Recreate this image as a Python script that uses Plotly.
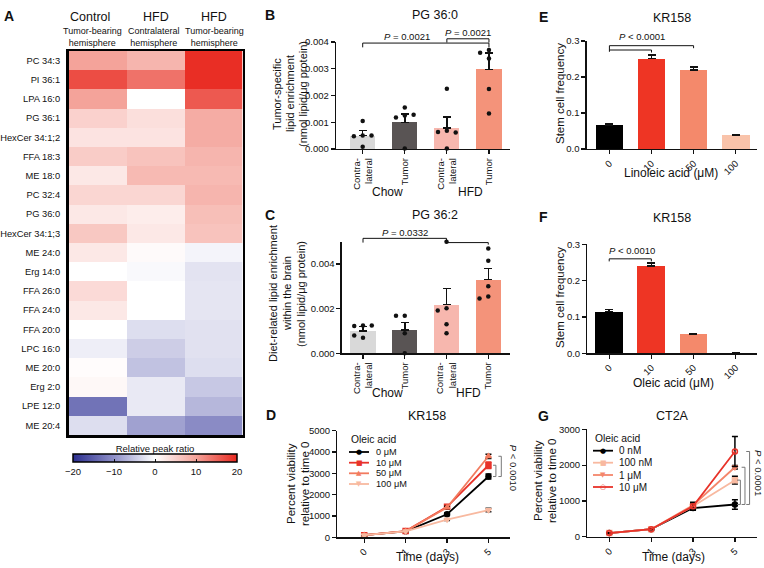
import plotly.graph_objects as go

W, H = 764, 568
FONT = "Liberation Sans, Arial, Helvetica, sans-serif"
INK = "#111111"


def px(x):
    return x / W


def py(y):
    return 1 - y / H


def frac(v, rng):
    return (v - rng[0]) / (rng[1] - rng[0])


# ---------------- Panel A: heatmap data ----------------
lipids = ["PC 34:3", "PI 36:1", "LPA 16:0", "PG 36:1", "HexCer 34:1;2", "FFA 18:3",
          "ME 18:0", "PC 32:4", "PG 36:0", "HexCer 34:1;3", "ME 24:0", "Erg 14:0",
          "FFA 26:0", "FFA 24:0", "FFA 20:0", "LPC 16:0", "ME 20:0", "Erg 2:0",
          "LPE 12:0", "ME 20:4"]
hm_groups = ["Control tumor-bearing", "HFD contralateral", "HFD tumor-bearing"]
ratio_control_tumor = [10, 17, 10, 5, 3, 5.5, 2.5, 4.5, 2.5, 6, 2.5, 0, 4, 2.5, 0,
                       -1.5, 0.3, 0.8, -13, -3]
ratio_hfd_contra = [8, 14, 0, 3.5, 3, 6.5, 7.5, 4.5, 2, 2.5, 0.5, -0.5, 0, 0, -3,
                    -4.5, -5.5, -2, -2, -8.5]
ratio_hfd_tumor = [19.5, 19.5, 16, 9, 9, 8, 7.5, 8, 7, 6.5, -1, -2.5, -2.3, -2.3,
                   -2.7, -2.7, -3, -5, -6.5, -10.5]
cbar_ticks = [-20, -10, 0, 10, 20]

# ---------------- Panel B: PG 36:0 ----------------
bar_groups = ["Contra-<br>lateral", "Tumor", "Contra-<br>lateral", "Tumor"]
B_mean = [0.00050, 0.00100, 0.00078, 0.00298]
B_sem = [0.00019, 0.00030, 0.00042, 0.00060]
B_points = [[0.00105, 0.00050, 0.00048, 0.00050, 0.00008],
            [0.00155, 0.00125, 0.00118, 0.00128, 0.00002],
            [0.00225, 0.00068, 0.00064, 0.00062, 0.00002],
            [0.00370, 0.00360, 0.00338, 0.00224, 0.00133]]

# ---------------- Panel C: PG 36:2 ----------------
C_mean = [0.00100, 0.00105, 0.00218, 0.00330]
C_sem = [0.00020, 0.00033, 0.00072, 0.00050]
C_points = [[0.00125, 0.00122, 0.00125, 0.00070, 0.00080],
            [0.00168, 0.00168, 0.00090, 0.00000],
            [0.00500, 0.00202, 0.00192, 0.00130, 0.00090],
            [0.00470, 0.00415, 0.00300, 0.00255, 0.00245]]

# ---------------- Panel D: KR158 viability, oleic acid ----------------
days = ["0", "1", "3", "5"]
D_names = ["0 μM", "10 μM", "50 μM", "100 μM"]
D_vals = [[100, 280, 1080, 2850],
          [100, 290, 1430, 3380],
          [100, 290, 1400, 3800],
          [100, 280, 830, 1280]]
D_err = [[15, 15, 60, 120],
         [15, 15, 60, 150],
         [15, 15, 60, 100],
         [15, 15, 40, 80]]

# ---------------- Panel E: KR158 stem cell frequency, linoleic acid ----------------
conc_labels = ["0", "10", "50", "100"]
E_mean = [0.066, 0.251, 0.220, 0.038]
E_sem = [0.004, 0.010, 0.008, 0.002]

# ---------------- Panel F: KR158 stem cell frequency, oleic acid ----------------
F_mean = [0.115, 0.240, 0.053, 0.001]
F_sem = [0.005, 0.009, 0.002, 0.0005]

# ---------------- Panel G: CT2A viability, oleic acid ----------------
G_names = ["0 nM", "100 nM", "1 μM", "10 μM"]
G_vals = [[100, 210, 800, 900],
          [100, 210, 850, 1580],
          [100, 210, 880, 1940],
          [100, 210, 850, 2380]]
G_err = [[10, 15, 60, 130],
         [10, 15, 80, 110],
         [10, 15, 80, 50],
         [10, 15, 100, 420]]

# ---------------- styles ----------------
HM_SCALE = [[0, "#2b2e8f"], [0.25, "#8f90c8"], [0.5, "#ffffff"],
            [0.75, "#f4a39a"], [1, "#e8281f"]]
BC_COLORS = ["#d9d9d9", "#595454", "#f7b7ae", "#f4937a"]
EF_COLORS = ["#000000", "#ee3524", "#f4896b", "#f9c3aa"]
D_COLORS = ["#000000", "#e8332a", "#f27b5f", "#f8b9a0"]
D_ERRC = ["#000000", "#e8332a", "#000000", "#222222"]
D_SYM = ["circle", "square", "triangle-up", "triangle-down"]
D_GLYPH = ["●", "■", "▲", "▼"]
G_COLORS = ["#000000", "#f8b9a0", "#f4866b", "#e8332a"]
G_SYM = ["circle", "square", "triangle-down", "circle-open"]
G_GLYPH = ["●", "■", "▼", "○"]

# axis ranges
B_XR, B_YR = [-0.634, 3.5], [0, 0.004]
C_XR, C_YR = [-0.51, 3.52], [0, 0.005]
D_XR, D_YR = [-0.65, 3.52], [0, 5000]
E_XR, E_YR = [-0.54, 3.5], [0, 0.3]
F_XR, F_YR = [-0.52, 3.5], [0, 0.3]
G_XR, G_YR = [-0.525, 3.52], [0, 3000]

fig = go.Figure()

# ---- A heatmap
z = [list(r) for r in zip(ratio_control_tumor, ratio_hfd_contra, ratio_hfd_tumor)]
fig.add_trace(go.Heatmap(
    z=z, x=hm_groups, y=lipids, zmin=-20, zmax=20, colorscale=HM_SCALE,
    xaxis="x", yaxis="y", hoverinfo="skip",
    colorbar=dict(orientation="h", x=px(155), xanchor="center", y=py(443), yanchor="top",
                  len=164 / W, lenmode="fraction", thickness=8,
                  outlinewidth=1.5, outlinecolor="black",
                  tickvals=cbar_ticks, ticks="inside", ticklen=3, tickwidth=1,
                  tickcolor=INK, tickfont=dict(size=9.5, family=FONT, color=INK),
                  title=dict(text="Relative peak ratio", side="top",
                             font=dict(size=9.5, family=FONT, color=INK)),
                  xpad=0, ypad=0)))


def swarm(vals, thr, step=0.21):
    pattern = [0, -1, 1, -2, 2]
    offs = []
    for i, v in enumerate(vals):
        n = sum(1 for j in range(i) if abs(vals[j] - v) < thr)
        offs.append(pattern[min(n, 4)] * step)
    return offs


def bar_panel(xa, ya, means, sems, points, colors, thr, width):
    idx = list(range(len(means)))
    fig.add_trace(go.Bar(
        x=idx, y=means, marker=dict(color=colors, line=dict(width=0)), width=width,
        error_y=dict(type="data", array=sems, arrayminus=[0] * len(sems), symmetric=False,
                     color=INK, thickness=1.5, width=4),
        xaxis=xa, yaxis=ya, hoverinfo="skip"))
    if points is not None:
        for i, pts in enumerate(points):
            offs = swarm(pts, thr)
            fig.add_trace(go.Scatter(
                x=[i + o for o in offs], y=pts, mode="markers",
                marker=dict(color=INK, size=4.5), cliponaxis=False,
                xaxis=xa, yaxis=ya, hoverinfo="skip"))


bar_panel("x2", "y2", B_mean, B_sem, B_points, BC_COLORS, 0.00015, 0.6)
bar_panel("x3", "y3", C_mean, C_sem, C_points, BC_COLORS, 0.00015, 0.6)
bar_panel("x5", "y5", E_mean, E_sem, None, EF_COLORS, 0, 0.66)
bar_panel("x6", "y6", F_mean, F_sem, None, EF_COLORS, 0, 0.66)


def line_panel(xa, ya, vals, errs, colors, errc, syms):
    for v, e, c, ec, s in zip(vals, errs, colors, errc, syms):
        fig.add_trace(go.Scatter(
            x=days, y=v, mode="lines+markers",
            line=dict(color=c, width=1.8),
            marker=dict(symbol=s, size=5, color=c, line=dict(color=c, width=1.5)),
            error_y=dict(type="data", array=e, color=ec, thickness=1.5, width=3),
            xaxis=xa, yaxis=ya, hoverinfo="skip", cliponaxis=False))


line_panel("x4", "y4", D_vals, D_err, D_COLORS, D_ERRC, D_SYM)
line_panel("x7", "y7", G_vals, G_err, G_COLORS, ["#000000"] * 4, G_SYM)

# ---------------- axes ----------------
TF = dict(size=9.5, family=FONT, color=INK)


def ax(domain, rng, anchor, **kw):
    d = dict(domain=domain, range=rng, anchor=anchor, showline=True, linecolor=INK,
             linewidth=1.3, ticks="outside", ticklen=4, tickwidth=1.2, tickcolor=INK,
             showgrid=False, zeroline=False, tickfont=TF, fixedrange=True,
             automargin=False)
    d.update(kw)
    return d


layout_axes = dict(
    xaxis=dict(domain=[px(68.5), px(242.5)], anchor="y", showticklabels=False, ticks="",
               showline=True, mirror=True, linewidth=2.5, linecolor="black",
               showgrid=False, zeroline=False, automargin=False),
    yaxis=dict(domain=[py(435), py(51)], anchor="x", autorange="reversed", ticks="",
               showline=True, mirror=True, linewidth=2.5, linecolor="black",
               showgrid=False, zeroline=False, ticklabelstandoff=4, automargin=False,
               tickfont=dict(size=9.3, family=FONT, color=INK)),
    xaxis2=ax([px(336), px(510)], B_XR, "y2", tickvals=[0, 1, 2, 3],
              ticktext=bar_groups, tickangle=-90),
    yaxis2=ax([py(149), py(42)], B_YR, "x2",
              tickvals=[0, 0.001, 0.002, 0.003, 0.004], tickformat=".3f"),
    xaxis3=ax([px(341.7), px(510)], C_XR, "y3", tickvals=[0, 1, 2, 3],
              ticktext=bar_groups, tickangle=-90),
    yaxis3=ax([py(353.3), py(241.7)], C_YR, "x3",
              tickvals=[0, 0.002, 0.004], tickformat=".3f"),
    xaxis4=ax([px(337.3), px(510)], D_XR, "y4", type="category",
              categoryorder="array", categoryarray=days, tickangle=-45),
    yaxis4=ax([py(537.3), py(430.7)], D_YR, "x4",
              tickvals=[0, 1000, 2000, 3000, 4000, 5000]),
    xaxis5=ax([px(586.7), px(756.7)], E_XR, "y5", tickvals=[0, 1, 2, 3],
              ticktext=conc_labels, tickangle=-45),
    yaxis5=ax([py(149), py(41)], E_YR, "x5", tickvals=[0, 0.1, 0.2, 0.3],
              tickformat=".1f"),
    xaxis6=ax([px(587.3), px(756.7)], F_XR, "y6", tickvals=[0, 1, 2, 3],
              ticktext=conc_labels, tickangle=-45),
    yaxis6=ax([py(353.3), py(244.3)], F_YR, "x6", tickvals=[0, 0.1, 0.2, 0.3],
              tickformat=".1f"),
    xaxis7=ax([px(587.3), px(756.7)], G_XR, "y7", type="category",
              categoryorder="array", categoryarray=days, tickangle=-45),
    yaxis7=ax([py(536.7), py(429.3)], G_YR, "x7", tickvals=[0, 1000, 2000, 3000]),
)

# ---------------- annotations & shapes ----------------
anns = []
shapes = []


def ann(text, x, y, size=9.5, xanchor="center", yanchor="middle", angle=0,
        bold=False, xref="paper", yref="paper"):
    if xref == "paper":
        x = px(x)
    if yref == "paper":
        y = py(y)
    anns.append(dict(text=f"<b>{text}</b>" if bold else text, x=x, y=y, xref=xref, yref=yref,
                     showarrow=False, xanchor=xanchor, yanchor=yanchor, textangle=angle,
                     font=dict(size=size, family=FONT, color=INK)))


def seg(xref, yref, x0, y0, x1, y1, color=INK, w=1.0):
    shapes.append(dict(type="line", xref=xref, yref=yref, x0=x0, y0=y0, x1=x1, y1=y1,
                       line=dict(color=color, width=w)))


# panel letters
for letter, (lx, ly) in {"A": (9, 16), "B": (270, 15), "C": (270, 215), "D": (271, 415),
                         "E": (543, 17), "F": (543, 217), "G": (543, 416)}.items():
    ann(letter, lx, ly, size=14, bold=True)

# heatmap headers
for t, x in [("Control", 90), ("HFD", 156), ("HFD", 214)]:
    ann(t, x, 17, size=12.5)
for t, x in [("Tumor-bearing<br>hemisphere", 92), ("Contralateral<br>hemisphere", 154),
             ("Tumor-bearing<br>hemisphere", 215)]:
    ann(t, x, 37, size=9)

# panel titles
for t, x, y in [("PG 36:0", 435, 15), ("PG 36:2", 435, 215), ("KR158", 427, 416),
                ("KR158", 672, 18), ("KR158", 672, 218), ("CT2A", 672, 416)]:
    ann(t, x, y, size=12.5)

# y-axis titles (one annotation per line)
for lines, xs, yc, fs in [
    (["Tumor-specific", "lipid enrichment", "(nmol lipid/μg protein)"], [277, 290, 303], 94, 11),
    (["Diet-related lipid enrichment", "within the brain", "(nmol lipid/μg protein)"],
     [273, 287, 301], 294, 11),
    (["Percent viability", "relative to time 0"], [291, 305], 484, 11.5),
    (["Stem cell frequency"], [560], 94, 11.5),
    (["Stem cell frequency"], [560], 298, 11.5),
    (["Percent viability", "relative to time 0"], [538, 552], 481, 11.5),
]:
    for t, x in zip(lines, xs):
        ann(t, x, yc, size=fs, angle=-90)

# x-axis titles / group labels
for t, x, y in [("Time (days)", 427, 557), ("Time (days)", 673, 557),
                ("Linoleic acid (μM)", 671, 173), ("Oleic acid (μM)", 673, 383),
                ("Chow", 387, 192), ("HFD", 470, 192), ("Chow", 387, 393), ("HFD", 468, 393)]:
    ann(t, x, y, size=12)

# B significance (y in 'y2 domain' units so they can sit above the axis)
yb = "y2 domain"
seg("x2", yb, 0, frac(0.0038, B_YR), 0, frac(0.00396, B_YR))
seg("x2", yb, 0, frac(0.00396, B_YR), 3, frac(0.00396, B_YR))
seg("x2", yb, 3, frac(0.00396, B_YR), 3, frac(0.0038, B_YR))
seg("x2", yb, 2, frac(0.00398, B_YR), 2, frac(0.00412, B_YR))
seg("x2", yb, 2, frac(0.00412, B_YR), 3, frac(0.00412, B_YR))
seg("x2", yb, 3, frac(0.00412, B_YR), 3, frac(0.00398, B_YR))
ann("<i>P</i> = 0.0021", 1.05, frac(0.00422, B_YR), xref="x2", yref=yb)
ann("<i>P</i> = 0.0021", 2.5, frac(0.00436, B_YR), xref="x2", yref=yb)

# C significance
yc_ = "y3 domain"
seg("x3", yc_, 0, frac(0.00496, C_YR), 0, frac(0.00515, C_YR))
seg("x3", yc_, 0, frac(0.00515, C_YR), 2, frac(0.00515, C_YR))
seg("x3", yc_, 2, frac(0.00515, C_YR), 2, frac(0.00496, C_YR))
seg("x3", yc_, 2, frac(0.00496, C_YR), 3, frac(0.00496, C_YR))
seg("x3", yc_, 3, frac(0.00496, C_YR), 3, frac(0.00487, C_YR))
ann("<i>P</i> = 0.0332", 1.0, frac(0.00542, C_YR), xref="x3", yref=yc_)

# E significance
seg("x5", "y5", 0, 0.270, 0, 0.287)
seg("x5", "y5", 0, 0.287, 2, 0.287)
seg("x5", "y5", 2, 0.287, 2, 0.280)
seg("x5", "y5", 0, 0.275, 1, 0.275)
seg("x5", "y5", 1, 0.275, 1, 0.268)
ann("<i>P</i> &lt; 0.0001", 0.77, frac(0.312, E_YR), xref="x5", yref="y5 domain")

# F significance
seg("x6", "y6", 0, 0.253, 0, 0.260)
seg("x6", "y6", 0, 0.260, 1, 0.260)
seg("x6", "y6", 1, 0.260, 1, 0.253)
ann("<i>P</i> &lt; 0.0010", 0.53, 0.284, xref="x6", yref="y6")


def vbracket(xa, ya, x, y0, y1, tick):
    seg(xa, ya, x - tick, y0, x, y0, color="#777777")
    seg(xa, ya, x, y0, x, y1, color="#777777")
    seg(xa, ya, x - tick, y1, x, y1, color="#777777")


# D significance
vbracket("x4", "y4", 3.31, D_vals[2][3], D_vals[0][3], 0.07)
vbracket("x4", "y4", 3.18, D_vals[1][3], D_vals[0][3], 0.07)
ann("<i>P</i> &lt; 0.0010", frac(3.62, D_XR), 3250, angle=90,
    xref="x4 domain", yref="y4")

# G significance
vbracket("x7", "y7", 3.35, G_vals[3][3], G_vals[0][3], 0.08)
vbracket("x7", "y7", 3.24, G_vals[2][3], G_vals[0][3], 0.08)
vbracket("x7", "y7", 3.13, G_vals[1][3], G_vals[0][3], 0.08)
ann("<i>P</i> &lt; 0.0001", frac(3.56, G_XR), 1770, angle=90,
    xref="x7 domain", yref="y7")


# manual legends (compact, like the original)
def legend(title, names, colors, glyphs, x0, ytitle, ys, xtext, fs):
    ann(title, x0, ytitle, size=10.3, xanchor="left")
    for n, c, g, y in zip(names, colors, glyphs, ys):
        seg("paper", "paper", px(x0), py(y), px(x0 + 20), py(y), color=c, w=1.8)
        anns.append(dict(text=g, x=px(x0 + 10), y=py(y), xref="paper", yref="paper",
                         showarrow=False, xanchor="center", yanchor="middle",
                         font=dict(size=7, family="DejaVu Sans", color=c)))
        ann(n, xtext, y, size=fs, xanchor="left")


legend("Oleic acid", D_names, D_COLORS, D_GLYPH, 349, 439,
       [452, 462.7, 473.3, 484], 374, 9.2)
legend("Oleic acid", G_names, G_COLORS, G_GLYPH, 593, 438,
       [450.7, 462.7, 475, 487], 617, 10)

fig.update_layout(
    template="none",
    width=W, height=H, margin=dict(l=0, r=0, t=0, b=0, pad=0),
    paper_bgcolor="white", plot_bgcolor="white", showlegend=False,
    font=dict(family=FONT, color=INK), bargap=0,
    annotations=anns, shapes=shapes, **layout_axes)

fig.write_html("out.html",
               config={"displayModeBar": False, "staticPlot": True},
               post_script="document.body.style.margin='0px';"
                           "document.body.style.overflow='hidden';")
